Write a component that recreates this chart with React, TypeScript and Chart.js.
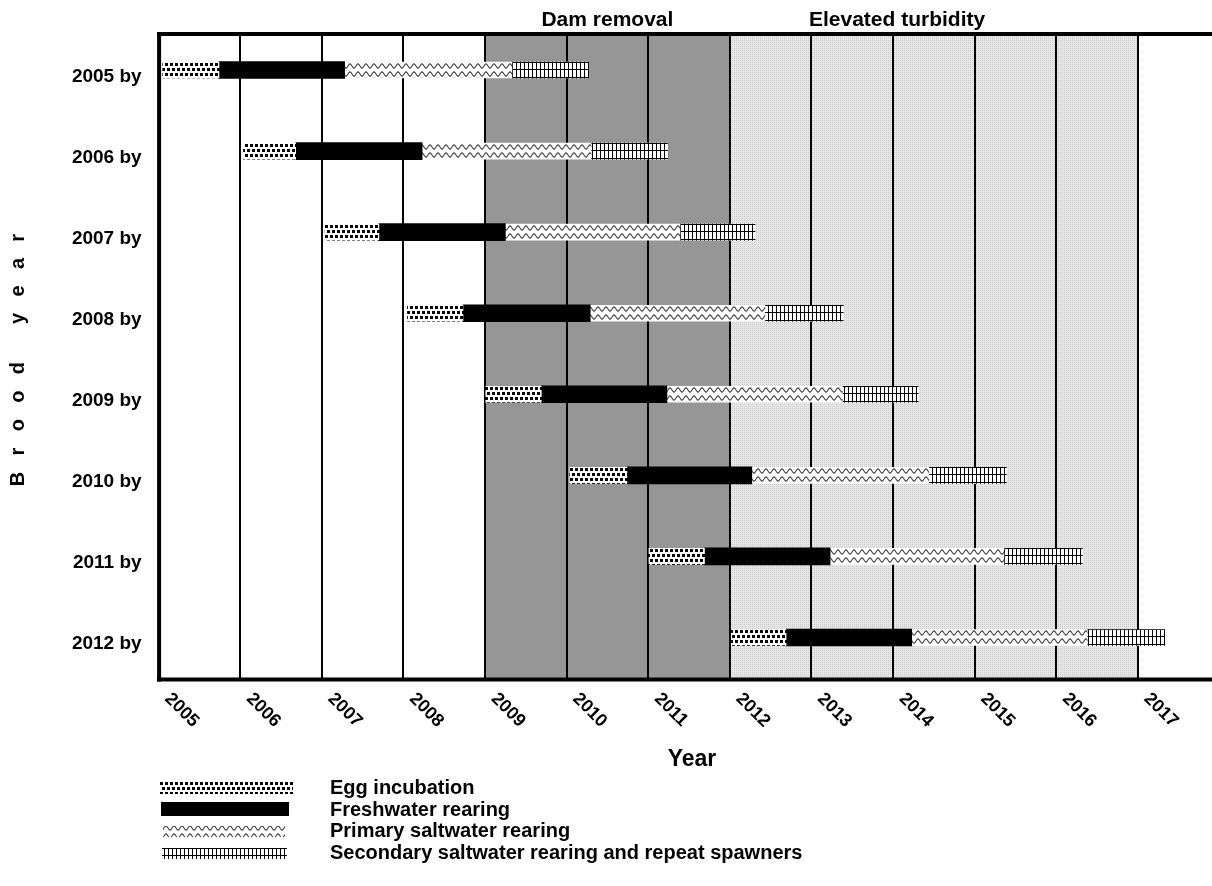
import React, { useEffect, useRef } from 'react';
import { Chart, registerables } from 'chart.js';

Chart.register(...registerables);

const FONT = 'Arial, "Liberation Sans", Helvetica, sans-serif';

// Brood years (rows)
const broodYears = ['2005 by', '2006 by', '2007 by', '2008 by', '2009 by', '2010 by', '2011 by', '2012 by'];

// Life-stage boundaries (decimal years) per brood year
const eggStart = [2005.05, 2006.04, 2007.04, 2008.05, 2009.01, 2010.04, 2011.01, 2012.02];
const eggEnd = [2005.74, 2006.68, 2007.7, 2008.73, 2009.69, 2010.74, 2011.69, 2012.69];
const freshEnd = [2007.28, 2008.23, 2009.25, 2010.29, 2011.23, 2012.27, 2013.23, 2014.23];
const primaryEnd = [2009.33, 2010.3, 2011.39, 2012.43, 2013.38, 2014.44, 2015.36, 2016.38];
const secondaryEnd = [2010.27, 2011.24, 2012.31, 2013.39, 2014.31, 2015.39, 2016.32, 2017.33];

const stageLabels = [
  'Egg incubation',
  'Freshwater rearing',
  'Primary saltwater rearing',
  'Secondary saltwater rearing and repeat spawners',
];

// X axis
const xTickYears = [2005, 2006, 2007, 2008, 2009, 2010, 2011, 2012, 2013, 2014, 2015, 2016, 2017];
const xMin = 2005;
const xMax = 2017.91;
const xTitle = 'Year';
const yTitle = 'Brood year';

// Shaded periods
const periodLabels = ['Dam removal', 'Elevated turbidity'];
const periodStart = [2009, 2012];
const periodEnd = [2012, 2017];
const periodLabelX = [2010.5, 2014.05];

const BAR = 16;
const TOP_INSET = 2.5;

function makeTile(kind: string): HTMLCanvasElement {
  const c = document.createElement('canvas');
  let w = 10;
  let h = 10;
  if (kind === 'wave') { w = 8; h = 8; }
  if (kind === 'grid') { w = 4; h = 15; }
  if (kind === 'light') { w = 2; h = 2; }
  c.width = w;
  c.height = h;
  const g = c.getContext('2d')!;
  if (kind === 'light') {
    g.fillStyle = '#e6e6e6';
    g.fillRect(0, 0, 2, 2);
    g.fillStyle = '#cdcdcd';
    g.fillRect(0, 0, 1, 1);
    return c;
  }
  g.fillStyle = '#ffffff';
  g.fillRect(0, 0, w, h);
  g.fillStyle = '#000000';
  if (kind === 'egg') {
    g.fillRect(0, 1, 3, 3);
    g.fillRect(5, 1, 3, 3);
    g.fillRect(2, 6, 3, 3);
    g.fillRect(7, 6, 3, 3);
  } else if (kind === 'wave') {
    g.strokeStyle = '#444444';
    g.lineWidth = 1.2;
    g.beginPath();
    for (let x = -1; x <= w + 1; x += 0.5) {
      const y = 4 + 2 * Math.sin((2 * Math.PI * x) / w);
      if (x === -1) g.moveTo(x, y);
      else g.lineTo(x, y);
    }
    g.stroke();
  } else if (kind === 'grid') {
    g.fillRect(0, 0, 1, h);
    g.fillRect(0, 0, w, 1);
    g.fillRect(0, 7, w, 1);
  }
  return c;
}

export default function App() {
  const ref = useRef<HTMLCanvasElement>(null);

  useEffect(() => {
    const canvas = ref.current;
    if (!canvas) return;
    const c2d = canvas.getContext('2d')!;
    const tiles: Record<string, HTMLCanvasElement> = {
      egg: makeTile('egg'),
      wave: makeTile('wave'),
      grid: makeTile('grid'),
      light: makeTile('light'),
    };

    const scripted = (tile: HTMLCanvasElement) => (ctx: any) => {
      const p = c2d.createPattern(tile, 'repeat') as CanvasPattern;
      const ys = ctx.chart && ctx.chart.scales ? ctx.chart.scales.y : null;
      if (ys && typeof ctx.dataIndex === 'number') {
        const top = Math.round(ys.getPixelForValue(ctx.dataIndex) - BAR / 2);
        p.setTransform(new DOMMatrix([1, 0, 0, 1, 0, top]));
      }
      return p;
    };

    const legendFills = [
      () => c2d.createPattern(tiles.egg, 'repeat'),
      () => '#000000',
      () => c2d.createPattern(tiles.wave, 'repeat'),
      () => c2d.createPattern(tiles.grid, 'repeat'),
    ];

    const bgPlugin = {
      id: 'bgShading',
      beforeDraw(chart: any) {
        const { ctx, chartArea, scales } = chart;
        const xs = scales.x;
        ctx.save();
        for (let i = 0; i < periodLabels.length; i++) {
          const x0 = xs.getPixelForValue(periodStart[i]);
          const x1 = xs.getPixelForValue(periodEnd[i]);
          ctx.fillStyle = i === 0 ? '#969696' : (ctx.createPattern(tiles.light, 'repeat') as CanvasPattern);
          ctx.fillRect(x0, chartArea.top + TOP_INSET, x1 - x0, chartArea.bottom - chartArea.top - TOP_INSET);
        }
        ctx.restore();
      },
    };

    const overlayPlugin = {
      id: 'overlay',
      afterDraw(chart: any) {
        const { ctx, chartArea, scales, width } = chart;
        const xs = scales.x;
        const frameTop = chartArea.top + TOP_INSET;
        ctx.save();
        // hide grid stubs above the frame
        ctx.fillStyle = '#fff';
        ctx.fillRect(chartArea.left - 2, chartArea.top - 1, width - chartArea.left + 3, TOP_INSET + 1);
        // frame
        ctx.fillStyle = '#000';
        ctx.fillRect(chartArea.left - 1.5, frameTop, width - chartArea.left + 2, 4);
        ctx.fillRect(chartArea.left - 1.5, chartArea.bottom - 0.5, width - chartArea.left + 2, 4);
        ctx.fillRect(chartArea.left - 1.5, frameTop, 4, chartArea.bottom - frameTop + 3.5);

        // x tick labels (rotated down-right)
        ctx.font = `bold 18px ${FONT}`;
        ctx.textAlign = 'left';
        ctx.textBaseline = 'middle';
        for (const yr of xTickYears) {
          const x = xs.getPixelForValue(yr);
          ctx.save();
          ctx.translate(x + 9, chartArea.bottom + 18);
          ctx.rotate(Math.PI / 4);
          ctx.fillText(String(yr), 0, 0);
          ctx.restore();
        }

        // period labels
        ctx.font = `bold 21px ${FONT}`;
        ctx.textAlign = 'center';
        ctx.textBaseline = 'alphabetic';
        for (let i = 0; i < periodLabels.length; i++) {
          ctx.fillText(periodLabels[i], xs.getPixelForValue(periodLabelX[i]), 26);
        }

        // x title
        ctx.font = `bold 23px ${FONT}`;
        ctx.textBaseline = 'middle';
        ctx.fillText(xTitle, 692, 760);

        // y title with letter spacing
        ctx.save();
        const ls = 16.3;
        ctx.font = `bold 20px ${FONT}`;
        (ctx as any).letterSpacing = `${ls}px`;
        ctx.translate(18, 360);
        ctx.rotate(-Math.PI / 2);
        ctx.textAlign = 'center';
        ctx.textBaseline = 'middle';
        ctx.fillText(yTitle, ls / 2, 0);
        ctx.restore();

        // legend
        const patches = [
          [160, 781, 133, 13],
          [161, 802, 128, 14],
          [163, 826, 122, 11],
          [162, 848, 125, 11],
        ];
        const textY = [788, 810, 831, 853];
        ctx.font = `bold 20px ${FONT}`;
        ctx.textAlign = 'left';
        ctx.textBaseline = 'middle';
        chart.data.datasets.forEach((ds: any, i: number) => {
          const [px, py, pw, ph] = patches[i];
          const fill: any = legendFills[i]();
          if (fill && typeof fill !== 'string' && fill.setTransform) {
            fill.setTransform(new DOMMatrix([1, 0, 0, 1, 0, py - (i === 2 ? 2 : 0)]));
          }
          ctx.fillStyle = fill;
          ctx.fillRect(px, py, pw, ph);
          ctx.fillStyle = '#000';
          ctx.fillText(ds.label, 330, textY[i]);
        });
        ctx.restore();
      },
    };

    const chart = new Chart(canvas, {
      type: 'bar',
      data: {
        labels: broodYears,
        datasets: [
          {
            label: stageLabels[0],
            data: broodYears.map((_, i) => [eggStart[i], eggEnd[i]]) as any,
            backgroundColor: scripted(tiles.egg) as any,
          },
          {
            label: stageLabels[1],
            data: broodYears.map((_, i) => [eggEnd[i], freshEnd[i]]) as any,
            backgroundColor: '#000000',
            barThickness: 17,
          },
          {
            label: stageLabels[2],
            data: broodYears.map((_, i) => [freshEnd[i], primaryEnd[i]]) as any,
            backgroundColor: scripted(tiles.wave) as any,
          },
          {
            label: stageLabels[3],
            data: broodYears.map((_, i) => [primaryEnd[i], secondaryEnd[i]]) as any,
            backgroundColor: scripted(tiles.grid) as any,
          },
        ],
      },
      options: {
        indexAxis: 'y',
        animation: false,
        responsive: true,
        maintainAspectRatio: false,
        layout: { padding: { top: 29.5, left: 0, right: 0, bottom: 0 } },
        datasets: { bar: { grouped: false, barThickness: BAR, borderWidth: 0 } as any },
        plugins: { legend: { display: false }, tooltip: { enabled: false }, title: { display: false } },
        scales: {
          x: {
            type: 'linear',
            min: xMin,
            max: xMax,
            afterFit: (s: any) => { s.height = 208; },
            ticks: { display: false, stepSize: 1, includeBounds: false } as any,
            grid: {
              color: (c: any) => (c.tick && c.tick.value > xMin && c.tick.value <= 2017 ? '#000000' : 'rgba(0,0,0,0)'),
              lineWidth: 2,
              drawTicks: false,
            },
            border: { display: false },
          },
          y: {
            type: 'category',
            offset: true,
            afterFit: (s: any) => { s.width = 158.6; },
            ticks: {
              font: { family: FONT, size: 19, weight: 'bold' },
              color: '#000000',
              padding: 17,
              labelOffset: 6.5,
            },
            grid: { display: false, drawTicks: false },
            border: { display: false },
          },
        },
      },
      plugins: [bgPlugin, overlayPlugin],
    });

    return () => chart.destroy();
  }, []);

  return (
    <div style={{ position: 'fixed', left: 0, top: 0, width: 1212, height: 886, background: '#fff' }}>
      <canvas ref={ref} />
    </div>
  );
}
